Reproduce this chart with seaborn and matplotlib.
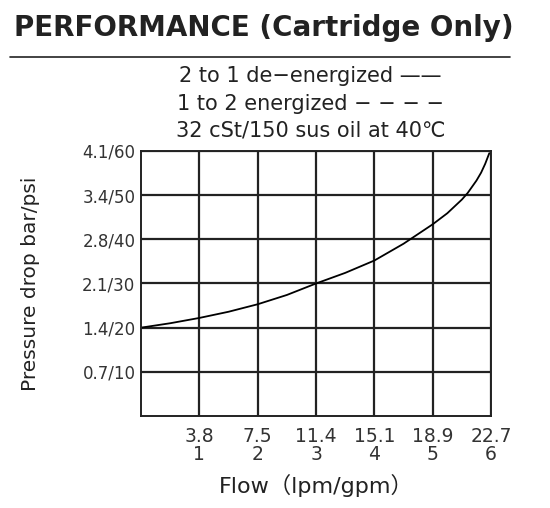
import numpy as np
import pandas as pd
import seaborn as sns
import matplotlib.pyplot as plt
from matplotlib.lines import Line2D

# flow in gpm, pressure drop in psi
flow_gpm = [0, 0.5, 1, 1.5, 2, 2.5, 3, 3.5, 4, 4.5, 5, 5.25, 5.5, 5.6, 5.75, 5.83, 5.9, 5.97]
drop_psi = [20.0, 21.0, 22.2, 23.6, 25.3, 27.4, 30.0, 32.4, 35.2, 39.0, 43.4, 45.9, 49.0,
            50.5, 53.3, 55.1, 57.1, 59.5]

x_ticks = [1, 2, 3, 4, 5, 6]
x_labels = ["3.8\n1", "7.5\n2", "11.4\n3", "15.1\n4", "18.9\n5", "22.7\n6"]
y_ticks = [10, 20, 30, 40, 50, 60]
y_labels = ["0.7/10", "1.4/20", "2.1/30", "2.8/40", "3.4/50", "4.1/60"]

sns.set_style("white")
plt.rcParams['font.family'] = ['DejaVu Sans', 'Noto Sans CJK SC']

df = pd.DataFrame({"flow": flow_gpm, "drop": drop_psi})

fig = plt.figure(figsize=(5.5, 5.08), dpi=100)
ax = fig.add_axes([0.2564, 0.1811, 0.6364, 0.5217])

sns.lineplot(data=df, x="flow", y="drop", ax=ax, color="black", linewidth=1.3)

ax.set_xlim(0, 6)
ax.set_ylim(0, 60)
ax.set_xticks(x_ticks)
ax.set_xticklabels(x_labels, fontsize=13.5, color="#333333", linespacing=0.95)
ax.set_yticks(y_ticks)
ax.set_yticklabels(y_labels, fontsize=12, color="#333333")
ax.tick_params(axis="x", length=0, pad=8)
ax.tick_params(axis="y", length=0, pad=4)
ax.grid(True, color="#222222", linewidth=1.6)
for s in ax.spines.values():
    s.set_color("#222222")
    s.set_linewidth(1.4)

ax.set_xlabel("Flow（lpm/gpm）", fontsize=16, color="#222222", va="top")
ax.xaxis.set_label_coords(0.5, -0.22)
ax.set_ylabel("Pressure drop bar/psi", fontsize=14.5, color="#222222")
ax.yaxis.set_label_coords(-0.289, 0.5)

fig.text(14 / 550, 1 - 36 / 508, "PERFORMANCE (Cartridge Only)", fontsize=20,
         fontweight="bold", color="#222222", va="baseline", ha="left")
fig.add_artist(Line2D([10 / 550, 510 / 550], [1 - 57 / 508, 1 - 57 / 508],
                      color="#222222", linewidth=1.2))

notes = ["2 to 1 de−energized ——", "1 to 2 energized − − − −",
         "32 cSt/150 sus oil at 40℃"]
for i, t in enumerate(notes):
    fig.text(0.565, 1 - (82 + i * 27.5) / 508, t, fontsize=15, color="#222222",
             ha="center", va="baseline")

plt.savefig("out.png", dpi=100)
